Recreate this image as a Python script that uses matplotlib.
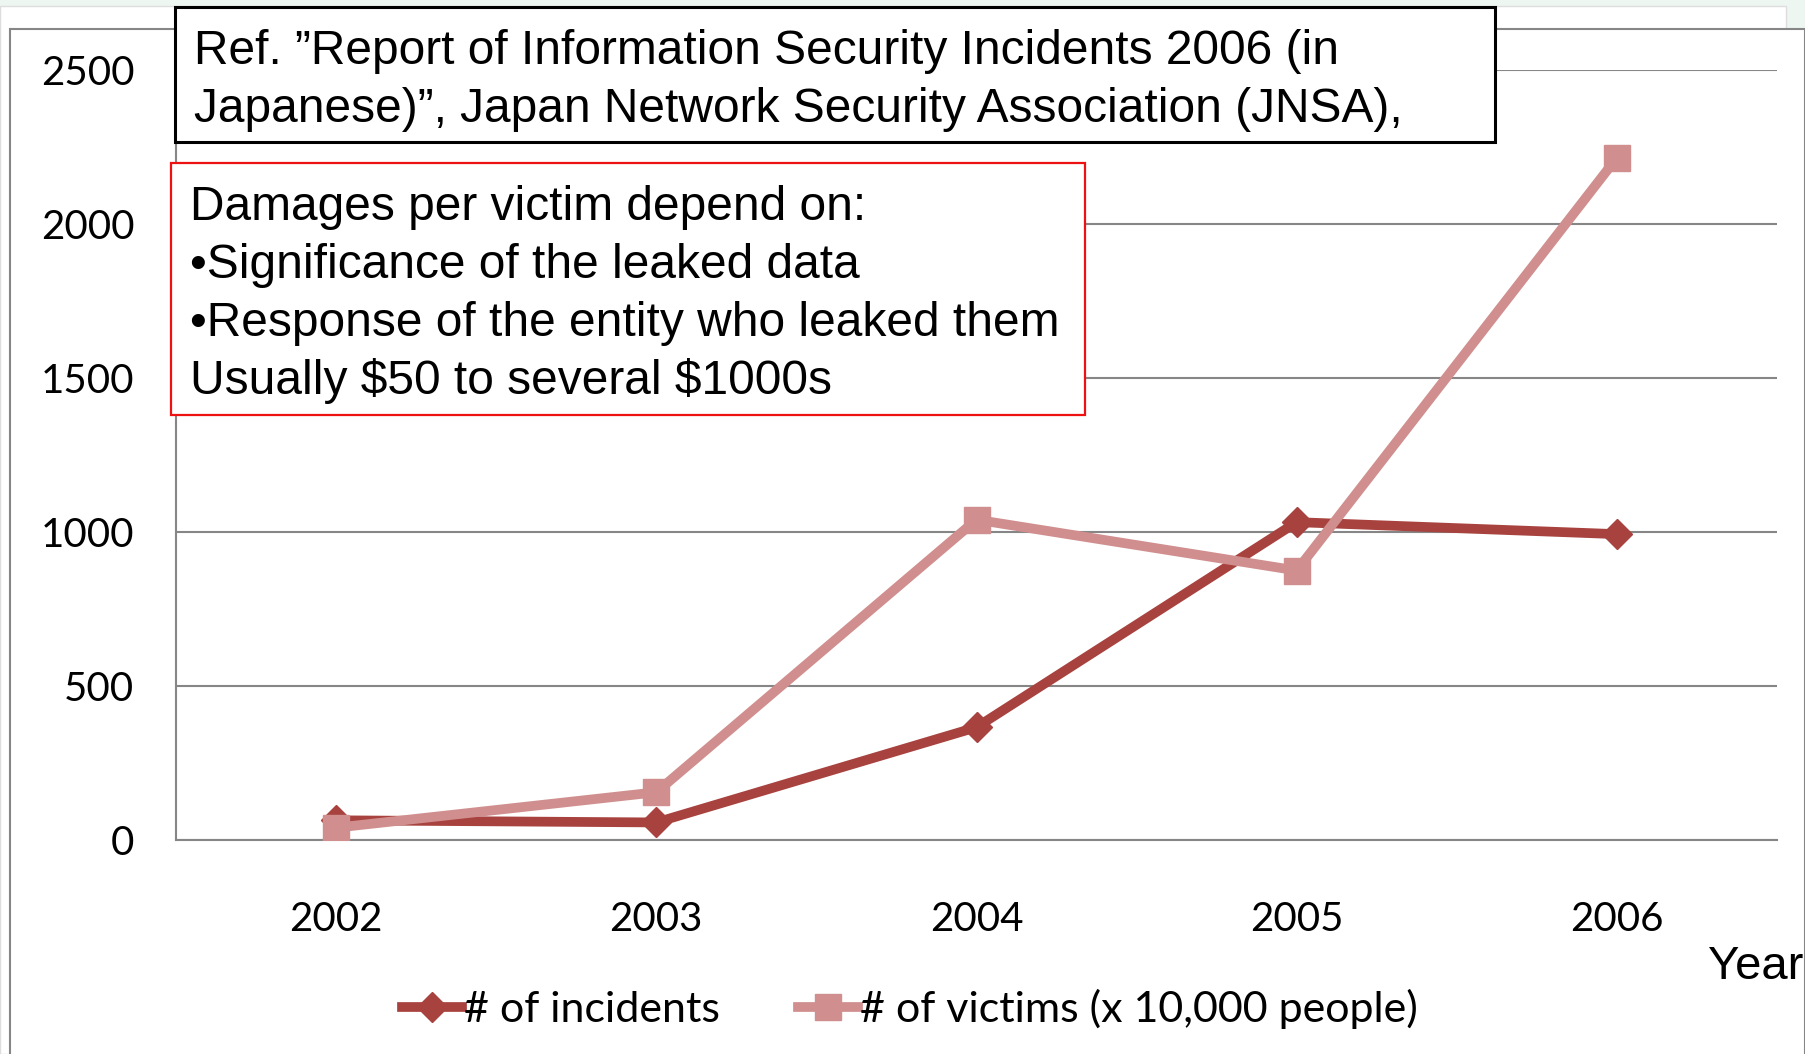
import matplotlib
matplotlib.use("Agg")
import matplotlib.pyplot as plt
from matplotlib.patches import Rectangle

# ------------------------------------ Data ----------------------------------
years = ["2002", "2003", "2004", "2005", "2006"]
incidents = [64, 57, 366, 1032, 993]
victims = [40, 155, 1040, 875, 2215]          # x 10,000 people
y_ticks = [0, 500, 1000, 1500, 2000, 2500]

ref_lines = ["Ref. \u201dReport of Information Security Incidents 2006 (in",
             "Japanese)\u201d, Japan Network Security Association (JNSA),"]
note_lines = ["Damages per victim depend on:",
              "\u2022Significance of the leaked data",
              "\u2022Response of the entity who leaked them",
              "Usually \\$50 to several \\$1000s"]

# ------------------------------------ Styles ----------------------------------
W, H = 1806, 1054
DARK = "#a8423e"
PINK = "#d08e8e"
GRID = "#868686"
TICK_FONT = "Lato"
BOX_FONT = "Liberation Sans"


def fx(px):
    return px / W


def fy(py):
    return 1 - py / H


fig = plt.figure(figsize=(W / 100, H / 100), dpi=100)
fig.patch.set_facecolor("#eef6f2")

# chart frame behind the plot
fig.patches.append(Rectangle((fx(0), fy(1054)), fx(1786), fy(6) - fy(1054),
                             transform=fig.transFigure, facecolor="white",
                             edgecolor="#dddddd", lw=1.0, zorder=-3))
fig.patches.append(Rectangle((fx(10), fy(1060)), fx(1805) - fx(10), fy(29) - fy(1060),
                             transform=fig.transFigure, facecolor="white",
                             edgecolor=GRID, lw=1.5, zorder=-2))

ax = fig.add_axes([fx(176), fy(840), fx(1777) - fx(176), fy(70) - fy(840)])
ax.set_facecolor("none")

x = list(range(len(years)))
ax.plot(x, incidents, color=DARK, lw=7, marker="D", ms=15,
        label="# of incidents", zorder=3)
ax.plot(x, victims, color=PINK, lw=7, marker="s", ms=19,
        label="# of victims (x 10,000 people)", zorder=4)

ax.set_xlim(-0.5, len(years) - 0.5)
ax.set_ylim(0, 2500)
ax.set_xticks(x)
ax.set_xticklabels(years)
ax.set_yticks(y_ticks)
ax.yaxis.grid(True, color=GRID, lw=1.5)
ax.set_axisbelow(True)
ax.tick_params(length=0, labelsize=29)
ax.tick_params(axis="y", pad=30)
ax.tick_params(axis="x", pad=44)
for lab in ax.get_xticklabels() + ax.get_yticklabels():
    lab.set_fontfamily(TICK_FONT)

for side in ["top", "right"]:
    ax.spines[side].set_visible(False)
ax.spines["left"].set_color(GRID)
ax.spines["left"].set_linewidth(1.5)
ax.spines["bottom"].set_color(GRID)
ax.spines["bottom"].set_linewidth(1.5)

fig.text(fx(1708), fy(967), "Year", fontsize=34, family=BOX_FONT,
         ha="left", va="center")

leg = ax.legend(loc="center", bbox_to_anchor=(fx(910), fy(1009)),
                bbox_transform=fig.transFigure, ncol=2, frameon=False,
                prop={"family": TICK_FONT, "size": 31},
                handlelength=1.4, handletextpad=0.05, columnspacing=1.8)

# reference box
fig.patches.append(Rectangle((fx(175), fy(142)), fx(1495) - fx(175), fy(7) - fy(142),
                             transform=fig.transFigure, facecolor="white",
                             edgecolor="black", lw=2.2, zorder=5))
for i, line in enumerate(ref_lines):
    fig.text(fx(194), fy(51 + 58 * i), line, fontsize=34.5, family=BOX_FONT,
             ha="left", va="center", zorder=6)

# damages note box
fig.patches.append(Rectangle((fx(171), fy(415)), fx(1085) - fx(171), fy(163) - fy(415),
                             transform=fig.transFigure, facecolor="white",
                             edgecolor="#ee1111", lw=1.6, zorder=5))
for i, line in enumerate(note_lines):
    fig.text(fx(190), fy(207 + 58 * i), line, fontsize=34.5, family=BOX_FONT,
             ha="left", va="center", zorder=6)

fig.savefig("out.png", dpi=100)
